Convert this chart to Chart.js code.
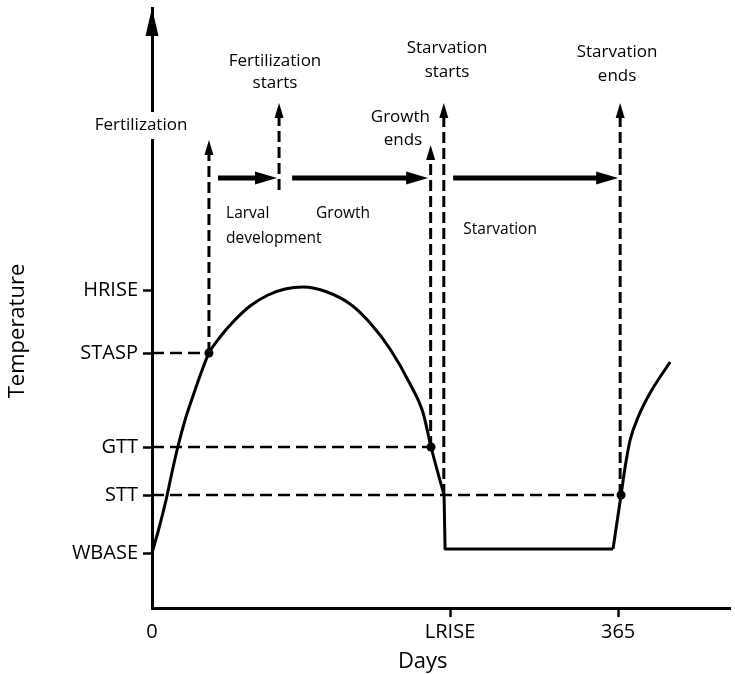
<!DOCTYPE html>
<html>
<head>
<meta charset="utf-8">
<script src="https://cdn.jsdelivr.net/npm/chart.js@4.4.0/dist/chart.umd.min.js"></script>
<style>
html,body{margin:0;padding:0;background:#fff;}
#wrap{width:735px;height:674px;position:relative;}
</style>
</head>
<body>
<div id="wrap"><canvas id="c" width="735" height="674"></canvas></div>
<script>
// ---------- data (days on x, temperature in arbitrary units on y) ----------
const yTickValues = [5.5, 11.3, 16.1, 25.5, 31.8];
const yTickLabels = ['WBASE', 'STT', 'GTT', 'STASP', 'HRISE'];
const xTickValues = [0, 233.4, 365];
const xTickLabels = ['0', 'LRISE', '365'];

// temperature curve: warming season up to LRISE
const riseDays  = [0, 5.5, 11, 15.7, 20.4, 25.9, 32.1, 38.4, 44.6, 53.3, 63.4, 76.8, 90.9, 104.2, 118.3, 137.1, 155.1, 170.8, 186.4, 202.1, 212.3, 218.5, 228.7];
const riseTemps = [5.5, 8.0, 10.8, 13.6, 16.2, 18.8, 21.2, 23.5, 25.5, 27.1, 28.6, 30.2, 31.3, 31.9, 32.1, 31.6, 30.4, 28.5, 25.9, 22.4, 19.5, 16.1, 11.3];
// winter plateau
const winterDays  = [228.7, 229.5, 361];
const winterTemps = [11.3, 5.9, 5.9];
// next spring rise
const springDays  = [361, 367.3, 370.5, 374.4, 380.7, 390, 405.7];
const springTemps = [5.9, 11.3, 14.1, 16.8, 19.1, 21.5, 24.6];

// horizontal dashed threshold lines (from day 0 to the crossing day)
const levelEndDays = [44.6, 218.5, 367.3];
const levelTemps   = [25.5, 16.1, 11.3];

// vertical dashed event lines
const eventDays  = [44.6, 99.5, 218.2, 228.5, 366.6];
const eventFrom  = [25.5, 41.8, 16.1, 11.3, 11.3];
const eventTo    = [46.8, 50.5, 46.3, 50.5, 50.5];

// phase arrows
const phaseFrom  = [51.7, 109.7, 235.8];
const phaseTo    = [97.9, 216.2, 365];
const phaseLevel = 43.0;

// marked crossings
const dotDays  = [44.6, 218.5, 367.3];
const dotTemps = [25.5, 16.1, 11.3];

// annotation texts: [text, day, temp, align, size]
const notes = [
  ['Fertilization', -8.6, 48.3, 'center', 17],
  ['Fertilization', 96.3, 54.7, 'center', 17],
  ['starts',        96.3, 52.5, 'center', 17],
  ['Growth',       194.5, 49.1, 'center', 17],
  ['ends',         196.5, 46.8, 'center', 17],
  ['Starvation',   231.0, 56.0, 'center', 17],
  ['starts',       231.0, 53.6, 'center', 17],
  ['Starvation',   364.2, 55.6, 'center', 17],
  ['ends',         364.2, 53.2, 'center', 17],
  ['Larval',        58.0, 39.4, 'left', 15.5],
  ['development',   58.0, 36.9, 'left', 15.5],
  ['Growth',       149.6, 39.4, 'center', 15.5],
  ['Starvation',   272.6, 37.8, 'center', 15.5]
];

// ---------- build datasets ----------
const FONT = '"Open Sans", "Noto Sans", sans-serif';
const pts = (xs, ys) => xs.map((v, i) => ({x: v, y: ys[i]}));
const datasets = [];
const base = {showLine: true, pointRadius: 0, borderColor: '#000', backgroundColor: '#000', clip: false};

datasets.push(Object.assign({}, base, {data: pts(riseDays, riseTemps), borderWidth: 3, cubicInterpolationMode: 'monotone'}));
datasets.push(Object.assign({}, base, {data: pts(winterDays, winterTemps), borderWidth: 3, tension: 0, borderJoinStyle: 'round'}));
datasets.push(Object.assign({}, base, {data: pts(springDays, springTemps), borderWidth: 3, cubicInterpolationMode: 'monotone'}));

levelTemps.forEach((t, i) => {
  datasets.push(Object.assign({}, base, {data: [{x: 0, y: t}, {x: levelEndDays[i], y: t}], borderWidth: 2.5, borderDash: [12, 6]}));
});
eventDays.forEach((d, i) => {
  datasets.push(Object.assign({}, base, {data: [{x: d, y: eventFrom[i]}, {x: d, y: eventTo[i] - 1.0}], borderWidth: 3, borderDash: [11, 5]}));
});
phaseFrom.forEach((d, i) => {
  datasets.push(Object.assign({}, base, {data: [{x: d, y: phaseLevel}, {x: phaseTo[i] - 8, y: phaseLevel}], borderWidth: 5}));
});
datasets.push({showLine: false, data: pts(dotDays, dotTemps), pointRadius: 4.5, pointBackgroundColor: '#000', pointBorderWidth: 0, clip: false});

// ---------- decoration plugin: arrowheads and text ----------
function tri(ctx, p1, p2, p3) {
  ctx.beginPath(); ctx.moveTo(p1[0], p1[1]); ctx.lineTo(p2[0], p2[1]); ctx.lineTo(p3[0], p3[1]); ctx.closePath(); ctx.fill();
}
const decor = {
  id: 'decor',
  afterDraw(chart) {
    const {ctx, chartArea: ca} = chart;
    const xs = chart.scales.x, ys = chart.scales.y;
    ctx.save();
    ctx.fillStyle = '#000';
    // y-axis arrowhead
    const ax = xs.getPixelForValue(0);
    tri(ctx, [ax, ca.top], [ax - 6.5, ca.top + 28], [ax + 6.5, ca.top + 28]);
    // event arrowheads
    eventDays.forEach((d, i) => {
      const px = xs.getPixelForValue(d), py = ys.getPixelForValue(eventTo[i]);
      tri(ctx, [px, py], [px - 4.5, py + 15], [px + 4.5, py + 15]);
    });
    // phase arrowheads
    phaseTo.forEach(d => {
      const px = xs.getPixelForValue(d), py = ys.getPixelForValue(phaseLevel);
      tri(ctx, [px, py], [px - 22, py - 6.5], [px - 22, py + 6.5]);
    });
    // texts
    ctx.textBaseline = 'middle';
    notes.forEach(([t, d, v, al, sz], i) => {
      const px = xs.getPixelForValue(d), py = ys.getPixelForValue(v);
      ctx.font = sz + 'px ' + FONT;
      ctx.textAlign = al;
      if (i === 0) {
        const w = ctx.measureText(t).width;
        ctx.fillStyle = '#fff';
        ctx.fillRect(px - w / 2 - 2, py - 13, w + 4, 27);
        ctx.fillStyle = '#000';
      }
      ctx.fillText(t, px, py);
    });
    // axis titles
    ctx.font = '22px ' + FONT;
    ctx.textAlign = 'center';
    ctx.fillText('Days', xs.getPixelForValue(212), ca.bottom + 54);
    ctx.translate(18, ys.getPixelForValue(27.7));
    ctx.rotate(-Math.PI / 2);
    ctx.fillText('Temperature', 0, 0);
    ctx.restore();
  }
};

const tickFont = {family: FONT, size: 20};
function make() {
  new Chart(document.getElementById('c'), {
    type: 'scatter',
    data: {datasets},
    options: {
      responsive: false,
      devicePixelRatio: 1,
      animation: false,
      layout: {padding: {top: 8, left: 0, right: 0, bottom: 0}},
      plugins: {legend: {display: false}, tooltip: {enabled: false}},
      scales: {
        x: {
          type: 'linear', min: 0, max: 453,
          afterBuildTicks: s => { s.ticks = xTickValues.map(v => ({value: v})); },
          afterFit: s => { s.height = 66; s.paddingLeft = 0; s.paddingRight = 0; },
          ticks: {callback: v => xTickLabels[xTickValues.indexOf(v)], font: tickFont, color: '#000', padding: 3, autoSkip: false, maxRotation: 0},
          grid: {drawOnChartArea: false, drawTicks: true, tickLength: 9, tickWidth: 2.5,
                 tickColor: c => (c.index === 0 ? 'rgba(0,0,0,0)' : '#000')},
          border: {display: true, color: '#000', width: 3}
        },
        y: {
          type: 'linear', min: 0, max: 60,
          afterBuildTicks: s => { s.ticks = yTickValues.map(v => ({value: v})); },
          afterFit: s => { s.width = 152; s.paddingTop = 0; s.paddingBottom = 0; },
          ticks: {callback: v => yTickLabels[yTickValues.indexOf(v)], font: tickFont, color: '#000', padding: 5, autoSkip: false},
          grid: {drawOnChartArea: false, drawTicks: true, tickLength: 9, tickWidth: 2.5, tickColor: '#000'},
          border: {display: true, color: '#000', width: 3}
        }
      }
    },
    plugins: [decor]
  });
}
if (document.fonts && document.fonts.load) {
  Promise.all([document.fonts.load('17px "Open Sans"')]).then(make, make);
} else { make(); }
</script>
</body>
</html>
